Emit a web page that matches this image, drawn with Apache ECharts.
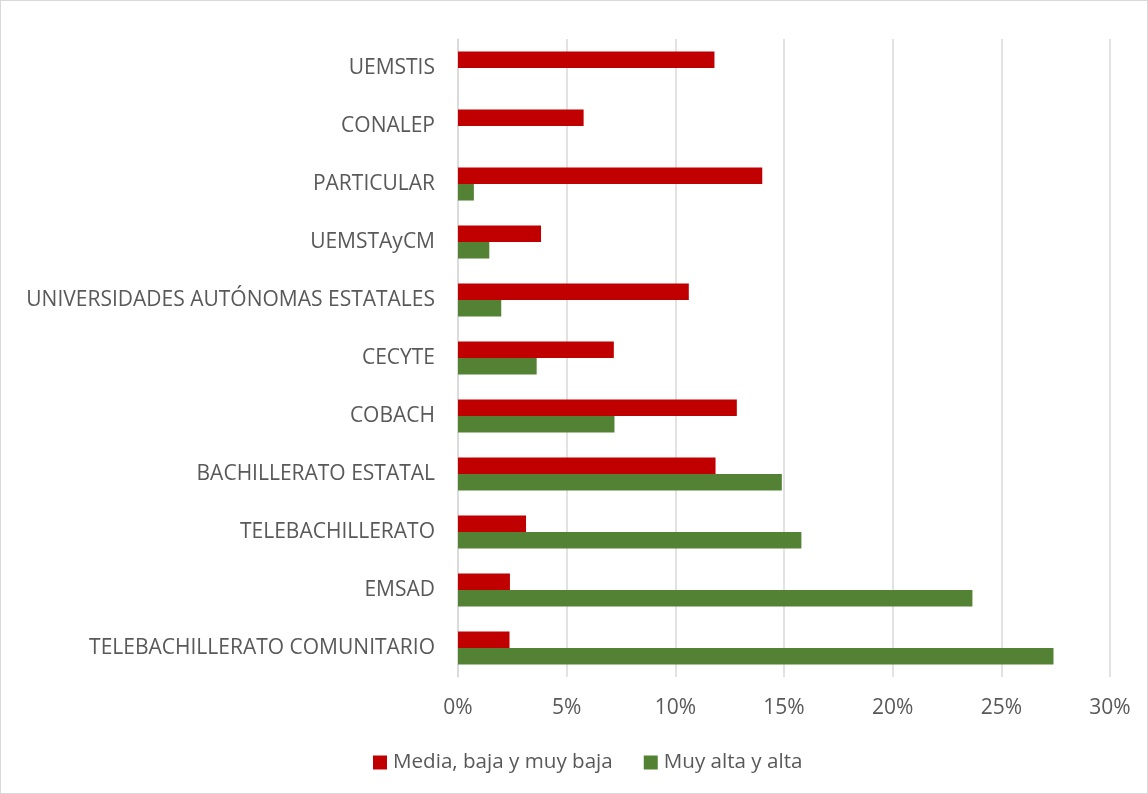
<!DOCTYPE html>
<html>
<head>
<meta charset="utf-8">
<script src="https://cdn.jsdelivr.net/npm/echarts@6/dist/echarts.min.js"></script>
<style>
html,body{margin:0;padding:0;background:#fff;}
#wrap{position:absolute;left:0;top:0;width:1146px;height:792px;border:1px solid #d9d9d9;}
#chart{width:1146px;height:792px;}
</style>
</head>
<body>
<div id="wrap"><div id="chart"></div></div>
<script>
const categories = ["TELEBACHILLERATO COMUNITARIO","EMSAD","TELEBACHILLERATO","BACHILLERATO ESTATAL","COBACH","CECYTE","UNIVERSIDADES AUTÓNOMAS ESTATALES","UEMSTAyCM","PARTICULAR","CONALEP","UEMSTIS"];
const mediaBaja = [2.37, 2.39, 3.13, 11.85, 12.83, 7.17, 10.62, 3.82, 14.0, 5.78, 11.8];
const muyAlta = [27.4, 23.67, 15.8, 14.9, 7.2, 3.62, 1.99, 1.44, 0.73, null, null];
const xTicks = [0, 5, 10, 15, 20, 25, 30];

const chart = echarts.init(document.getElementById('chart'));
const font = "'Open Sans', sans-serif";
chart.setOption({
  animation: false,
  textStyle: {fontFamily: font},
  grid: {left: 457, right: 37, top: 38, bottom: 116},
  legend: {
    top: 746, left: 367,
    itemWidth: 14, itemHeight: 14, itemGap: 31,
    icon: 'rect',
    textStyle: {fontSize: 20.6, color: '#595959', fontFamily: font, padding: [0, 0, 0, 1]},
    data: ["Media, baja y muy baja", "Muy alta y alta"]
  },
  xAxis: {
    type: 'value', min: 0, max: 30, interval: 5,
    axisLabel: {formatter: v => v + '%', fontSize: 21, color: '#595959', margin: 21, fontFamily: font},
    splitLine: {lineStyle: {color: '#d9d9d9', width: 1.5}},
    axisLine: {show: false}, axisTick: {show: false}
  },
  yAxis: {
    type: 'category', data: categories,
    axisLabel: {fontSize: 21, color: '#595959', margin: 23, fontFamily: font},
    axisLine: {show: true, lineStyle: {color: '#d9d9d9', width: 1.5}},
    axisTick: {show: false}
  },
  series: [
    {name: "Media, baja y muy baja", type: 'bar', data: mediaBaja, barGap: '0%', barCategoryGap: '43%',
     itemStyle: {color: '#c00000'}},
    {name: "Muy alta y alta", type: 'bar', data: muyAlta, barGap: '0%', barCategoryGap: '43%',
     itemStyle: {color: '#548235'}}
  ]
});
</script>
</body>
</html>
